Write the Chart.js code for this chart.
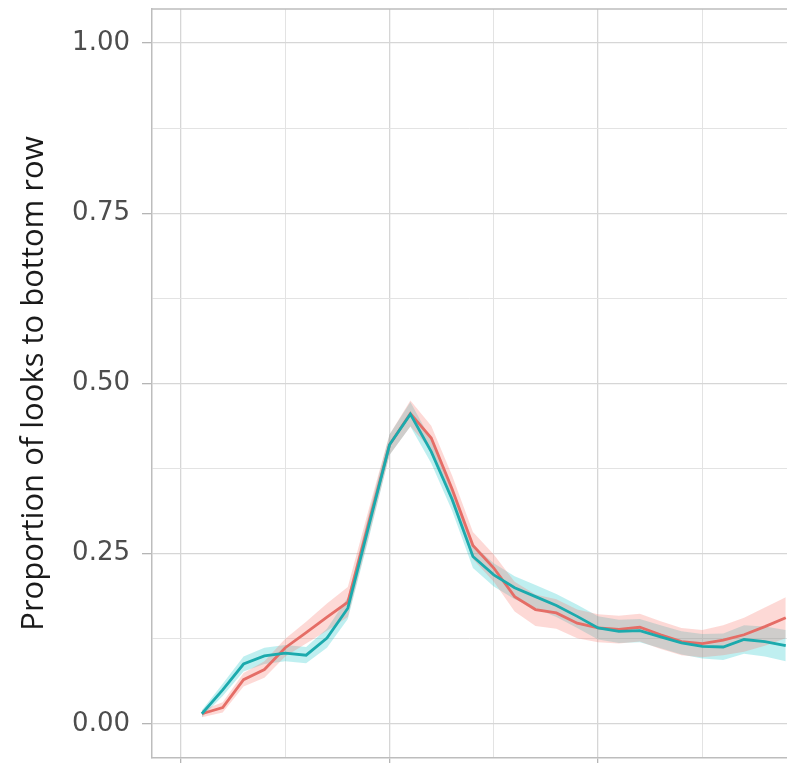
<!DOCTYPE html>
<html lang="en">
<head>
  <meta charset="UTF-8" />
  <title>Proportion of looks to bottom row</title>
  <style>
    html, body {
      margin: 0;
      padding: 0;
      background: #fff;
      overflow: hidden;
    }
    #chart {
      display: block;
    }
  </style>
</head>
<body>
  <canvas id="chart" width="787" height="763"></canvas>

  <script src="https://cdn.jsdelivr.net/npm/chart.js"></script>
  <script>
    // time bins (x) and the two conditions
    const timeBins = [50, 100, 150, 200, 250, 300, 350, 400, 450, 500, 550, 600, 650, 700, 750,
                      800, 850, 900, 950, 1000, 1050, 1100, 1150, 1200, 1250, 1300, 1350, 1400, 1450];

    const redMean = [0.015, 0.024, 0.065, 0.080, 0.112, 0.134, 0.157, 0.179, 0.295, 0.410, 0.456, 0.420, 0.345, 0.262, 0.229,
                     0.187, 0.168, 0.163, 0.148, 0.141, 0.139, 0.142, 0.131, 0.121, 0.118, 0.123, 0.131, 0.143, 0.156];
    const redLow  = [0.010, 0.017, 0.055, 0.068, 0.099, 0.118, 0.137, 0.157, 0.275, 0.395, 0.437, 0.402, 0.325, 0.242, 0.209,
                     0.165, 0.144, 0.140, 0.126, 0.120, 0.118, 0.121, 0.110, 0.101, 0.098, 0.101, 0.106, 0.115, 0.126];
    const redHigh = [0.020, 0.032, 0.075, 0.092, 0.125, 0.150, 0.177, 0.201, 0.315, 0.425, 0.475, 0.438, 0.365, 0.282, 0.249,
                     0.209, 0.190, 0.183, 0.168, 0.161, 0.159, 0.162, 0.151, 0.141, 0.138, 0.145, 0.156, 0.171, 0.186];

    const cyanMean = [0.015, 0.050, 0.088, 0.100, 0.104, 0.101, 0.126, 0.170, 0.290, 0.410, 0.455, 0.400, 0.330, 0.246, 0.219,
                      0.200, 0.187, 0.174, 0.158, 0.141, 0.136, 0.137, 0.128, 0.119, 0.114, 0.113, 0.124, 0.121, 0.115];
    const cyanLow  = [0.010, 0.041, 0.077, 0.088, 0.092, 0.089, 0.112, 0.154, 0.272, 0.395, 0.437, 0.383, 0.313, 0.229, 0.202,
                      0.183, 0.170, 0.157, 0.141, 0.124, 0.119, 0.120, 0.111, 0.102, 0.096, 0.094, 0.103, 0.099, 0.092];
    const cyanHigh = [0.020, 0.059, 0.099, 0.112, 0.116, 0.113, 0.140, 0.186, 0.308, 0.425, 0.473, 0.417, 0.347, 0.263, 0.236,
                      0.217, 0.204, 0.191, 0.175, 0.158, 0.153, 0.154, 0.145, 0.136, 0.132, 0.133, 0.145, 0.143, 0.138];

    const yTicks = [0, 0.125, 0.25, 0.375, 0.5, 0.625, 0.75, 0.875, 1];
    const yMajor = [0, 0.25, 0.5, 0.75, 1];
    const xTicks = [0, 250, 500, 750, 1000, 1250];
    const xMajor = [0, 500, 1000];

    const pts = arr => arr.map((v, i) => ({ x: timeBins[i], y: v }));

    function band(low, high, color) {
      return [
        { data: pts(low), borderWidth: 0, pointRadius: 0, fill: false, order: 2 },
        { data: pts(high), borderWidth: 0, pointRadius: 0, fill: '-1', backgroundColor: color, order: 2 }
      ];
    }

    // top edge of the panel border
    const panelBorder = {
      id: 'panelBorder',
      afterDraw(chart) {
        const { ctx, chartArea } = chart;
        ctx.save();
        ctx.strokeStyle = '#bdbdbd';
        ctx.lineWidth = 1.5;
        ctx.beginPath();
        ctx.moveTo(chartArea.left, chartArea.top);
        ctx.lineTo(chartArea.right, chartArea.top);
        ctx.stroke();
        ctx.restore();
      }
    };

    const ctx = document.getElementById('chart').getContext('2d');
    new Chart(ctx, {
      type: 'line',
      data: {
        datasets: [
          ...band(redLow, redHigh, 'rgba(248,118,109,0.28)'),
          ...band(cyanLow, cyanHigh, 'rgba(0,191,196,0.25)'),
          { data: pts(redMean), borderColor: '#E56D66', borderWidth: 2.8, pointRadius: 0, fill: false, order: 1 },
          { data: pts(cyanMean), borderColor: '#1BAAAD', borderWidth: 2.8, pointRadius: 0, fill: false, order: 0 }
        ]
      },
      options: {
        responsive: false,
        animation: false,
        devicePixelRatio: 1,
        layout: { padding: { top: 9, right: 0, left: 0, bottom: 0 } },
        plugins: {
          legend: { display: false },
          tooltip: { enabled: false }
        },
        scales: {
          x: {
            type: 'linear',
            min: -69.5,
            max: 1453,
            afterBuildTicks: s => { s.ticks = xTicks.map(v => ({ value: v })); },
            afterFit: s => { s.height = 5; s.paddingLeft = 0; s.paddingRight = 0; },
            ticks: { display: false },
            grid: {
              color: c => xMajor.includes(c.tick.value) ? '#d6d6d6' : '#e3e3e3',
              lineWidth: c => xMajor.includes(c.tick.value) ? 1.3 : 1,
              tickColor: c => xMajor.includes(c.tick.value) ? '#b5b5b5' : 'rgba(0,0,0,0)',
              tickLength: 7
            },
            border: { display: true, color: '#bdbdbd', width: 1.5 }
          },
          y: {
            type: 'linear',
            min: -0.05,
            max: 1.05,
            afterBuildTicks: s => { s.ticks = yTicks.map(v => ({ value: v })); },
            afterFit: s => { s.width = 152; s.paddingTop = 0; s.paddingBottom = 0; },
            ticks: {
              padding: 12,
              color: '#4d4d4d',
              font: { family: 'DejaVu Sans', size: 26 },
              callback: v => yMajor.includes(v) ? v.toFixed(2) : ''
            },
            grid: {
              color: c => yMajor.includes(c.tick.value) ? '#d6d6d6' : '#e3e3e3',
              lineWidth: c => yMajor.includes(c.tick.value) ? 1.3 : 1,
              tickColor: c => yMajor.includes(c.tick.value) ? '#b5b5b5' : 'rgba(0,0,0,0)',
              tickLength: 10
            },
            border: { display: true, color: '#bdbdbd', width: 1.5 },
            title: {
              display: true,
              text: 'Proportion of looks to bottom row',
              color: '#1a1a1a',
              font: { family: 'Open Sans', size: 31 },
              padding: { top: 16, bottom: 0 }
            }
          }
        }
      },
      plugins: [panelBorder]
    });
  </script>
</body>
</html>
